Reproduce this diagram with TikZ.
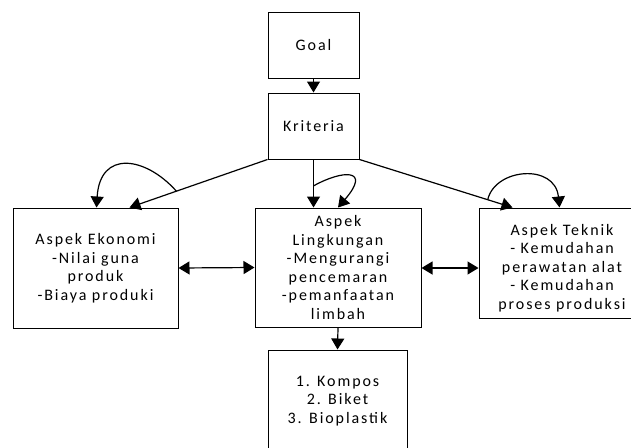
\documentclass[tikz,border=0pt]{standalone}
\usepackage{fontspec}
\setmainfont{Carlito}
\usetikzlibrary{arrows.meta,calc}
\newfontfamily\boxfont{Carlito}[LetterSpace=12]
\tikzset{
  box/.style={draw, line width=1pt, align=center, inner sep=0pt, font=\boxfont\fontsize{16}{18.5}\selectfont},
  txt/.style={align=center, inner sep=0pt, font=\boxfont\fontsize{16}{18.5}\selectfont},
  arr/.style={line width=1.2pt, -{Triangle[length=11pt,width=13pt]}},
  darr/.style={line width=1.2pt, {Triangle[length=11pt,width=13pt]}-{Triangle[length=11pt,width=13pt]}}
}
\begin{document}
\begin{tikzpicture}[x=1pt,y=-1pt]
\useasboundingbox (0,0) rectangle (631,447);
\clip (0,0) rectangle (631,447);
\node[box, minimum width=91, minimum height=66] (goal) at (313.5,45) {Goal};
\node[box, minimum width=91, minimum height=66] (krit) at (313.5,126) {Kriteria};
\node[box, minimum width=165, minimum height=120] (eko) at (95.5,268) {Aspek Ekonomi\\-Nilai guna\\produk\\-Biaya produki};
\node[box, minimum width=166, minimum height=119] (ling) at (338,267.5) {Aspek\\Lingkungan\\-Mengurangi\\pencemaran\\-pemanfaatan\\limbah};
\node[box, minimum width=166, minimum height=110] (tek) at (562,263) {};
\node[txt] (tektxt) at (562,268) {Aspek Teknik\\- Kemudahan\\perawatan alat\\- Kemudahan\\proses produksi};
\node[box, minimum width=139, minimum height=102] (out) at (337.5,401) {1. Kompos\\2. Biket\\3. Bioplastik};

\coordinate (ekoIn) at ([xshift=117pt]eko.north west);
\coordinate (tekIn) at ([xshift=34pt]tek.north west);
\coordinate (lingIn) at (krit.south |- ling.north);

\draw[arr] (goal.south) -- (krit.north);
\draw[arr] (krit.south west) -- (ekoIn);
\draw[arr] (krit.south) -- (lingIn);
\draw[arr] (krit.south east) -- (tekIn);

\coordinate (ekoLoop) at ($(krit.south west)!0.66!(ekoIn)$);
\coordinate (ekoEnd) at ([xshift=84pt]eko.north west);
\draw[arr] (ekoLoop) .. controls (145,156) and (100,150) .. (ekoEnd);

\coordinate (lingLoop) at ($(krit.south)!0.55!(lingIn)$);
\draw[arr] (lingLoop) .. controls (342,170) and (372,168) .. (ling.north);

\coordinate (tekLoop) at ($(krit.south east)!0.838!(tekIn)$);
\coordinate (tekEnd) at ([xshift=81pt]tek.north west);
\draw[arr] (tekLoop) .. controls (495,168) and (555,163) .. (tekEnd);

\draw[darr] (eko.east) -- (ling.west);
\draw[darr] ([yshift=-0.5pt]ling.east) -- ([yshift=-0.5pt]ling.east -| tek.west);
\draw[arr] (ling.south) -- (out.north);
\end{tikzpicture}
\end{document}
